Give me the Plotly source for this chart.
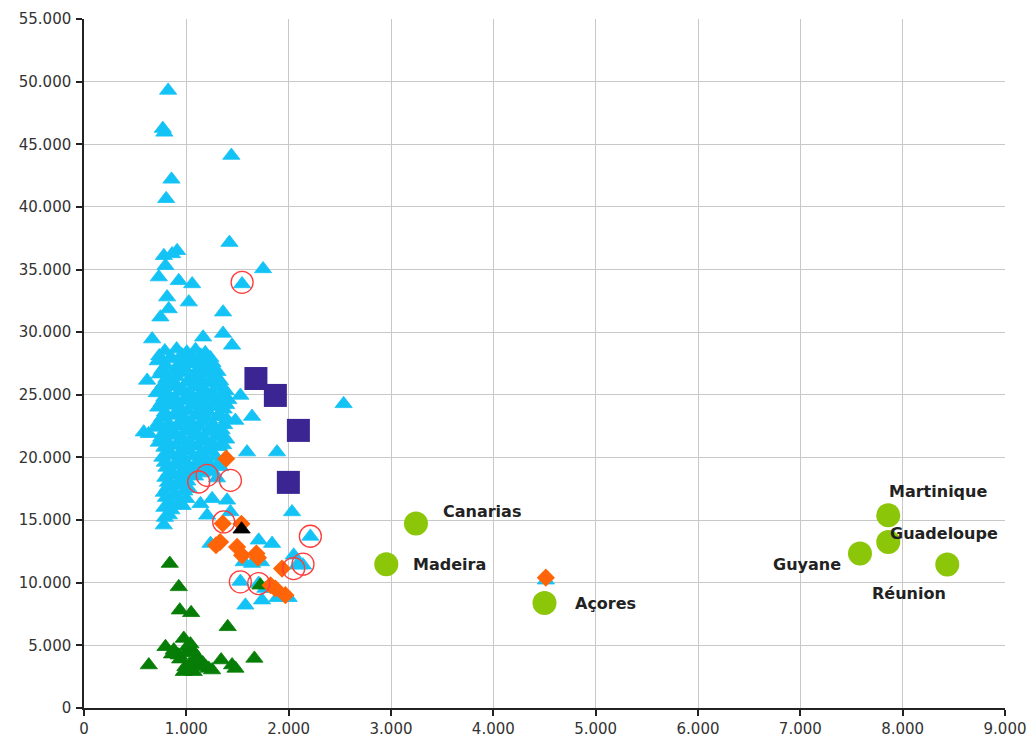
import plotly.graph_objects as go

# Light-blue regions (triangles)
blue_x = [
    822, 770, 785, 1440, 855, 803, 1421, 910, 861, 780, 1750, 1545, 796, 731,
    926, 1057, 812, 1024, 1359, 828, 747, 1164, 1359, 1447, 666,
    790, 905, 1005, 1090, 1185,
    735, 850, 955, 1045, 1140, 1235,
    720, 835, 955, 1045, 1160, 1255,
    800, 915, 1030, 1150, 1260,
    765, 875, 985, 1105, 1215, 1305,
    740, 850, 960, 1080, 1190, 1285,
    805, 905, 1025, 1135, 1245, 1330,
    780, 900, 1010, 1120, 1230, 1330,
    745, 855, 965, 1065, 1175, 1285, 1385,
    710, 820, 930, 1040, 1150, 1260, 1360,
    785, 895, 1005, 1105, 1205, 1315, 1410,
    760, 870, 980, 1080, 1180, 1290, 1390,
    725, 835, 945, 1055, 1155, 1255, 1365,
    790, 900, 1010, 1110, 1210, 1320,
    765, 875, 985, 1085, 1195, 1305, 1395,
    730, 830, 940, 1050, 1150, 1260, 1370,
    705, 805, 915, 1015, 1125, 1235, 1345,
    780, 890, 990, 1100, 1210, 1320,
    755, 855, 965, 1065, 1175, 1285, 1390,
    730, 830, 940, 1040, 1150, 1260, 1360,
    785, 895, 995, 1105, 1215, 1320,
    820, 930, 1030, 1140, 1250,
    765, 865, 965, 1065, 1175, 1285,
    790, 890, 990, 1100, 1210, 1310,
    805, 905, 1005, 1115, 1225, 1330,
    830, 940, 1040, 1150, 1260,
    795, 885, 985, 1085, 1300,
    820, 910, 1010,
    815, 925, 1025,
    780, 880, 980,
    800, 905, 1000,
    830, 930,
    785, 855, 965,
    790, 830,
    780,
    1528, 1479, 1642, 1593, 1886, 2537, 2033, 1313, 1365, 617, 584, 633,
    1138, 1252, 1398, 1203, 1431, 1707, 1838, 1236, 2049, 2090, 1642, 1730,
    1560, 1577, 1740, 1890, 2000, 1853, 1772, 2212, 2140, 2098, 1528, 1707,
    926, 4513,
]
blue_y = [
    49300, 46250, 45950, 44100, 42200, 40650, 37150, 36500, 36250, 36100, 35050, 33850, 35300, 34400,
    34100, 33850, 32800, 32400, 31600, 31850, 31200, 29600, 29900, 28950, 29450,
    28500, 28650, 28400, 28600, 28350,
    28100, 28000, 28200, 28050, 28150, 27950,
    27700, 27850, 27600, 27800, 27650, 27550,
    27350, 27250, 27450, 27300, 27200,
    27000, 26900, 27100, 26950, 27050, 26850,
    26650, 26550, 26750, 26600, 26700, 26500,
    26300, 26450, 26200, 26350, 26250, 26100,
    25900, 25800, 26000, 25850, 25950, 25750,
    25500, 25650, 25400, 25600, 25450, 25550, 25300,
    25150, 25050, 25250, 25100, 25200, 25000, 24950,
    24800, 24650, 24900, 24750, 24850, 24700, 24600,
    24400, 24300, 24500, 24350, 24450, 24250, 24200,
    24000, 24150, 23900, 24100, 23950, 24050, 23850,
    23600, 23500, 23700, 23550, 23650, 23450,
    23200, 23350, 23100, 23300, 23150, 23250, 23050,
    22800, 22700, 22900, 22750, 22850, 22650, 22600,
    22400, 22250, 22500, 22350, 22450, 22300, 22200,
    22000, 21900, 22100, 21950, 22050, 21850,
    21600, 21750, 21500, 21700, 21550, 21650, 21450,
    21200, 21100, 21300, 21150, 21250, 21050, 21000,
    20800, 20950, 20700, 20900, 20750, 20850,
    20400, 20300, 20500, 20350, 20450,
    20000, 20150, 19900, 20100, 19950, 20050,
    19600, 19500, 19700, 19550, 19650, 19450,
    19200, 19350, 19100, 19300, 19150, 19250,
    18800, 18700, 18900, 18750, 18850,
    18400, 18550, 18300, 18500, 18350,
    18000, 17900, 18100,
    17600, 17750, 17500,
    17200, 17100, 17300,
    16800, 16950, 16700,
    16400, 16500,
    16000, 15800, 16150,
    15200, 15400,
    14600,
    24950, 22950, 23270, 20430, 20430, 24280, 15650, 26150, 24400, 26150, 22020, 21890,
    16300, 16700, 16580, 15380, 15650, 13390, 13125, 13125, 12190, 11500, 11530, 11660,
    11660, 8200, 8610, 8800, 8800, 9540, 9540, 13700, 11400, 11400, 10100, 9935,
    16300, 10200,
]

# Dark-green regions (triangles)
green_x = [838, 926, 936, 1047, 1404, 633, 1665, 1340, 1447, 1480, 975, 796, 877, 926,
           1057, 1105, 991, 1138, 1219, 1252, 1072, 975, 1724, 1010, 1080, 1160, 940, 1030,
           860, 1120, 1190, 1000, 1040]
green_y = [11530, 9670, 7810, 7600, 6480, 3430, 3960, 3830, 3430, 3160, 5550, 4890, 4620, 4220,
           4620, 4090, 3290, 3430, 3160, 3030, 2900, 2900, 9800, 4900, 3800, 3600, 3900, 3500,
           4300, 3700, 3300, 4400, 5100]

# Orange regions (diamonds)
orange_x = [1389, 1356, 1538, 1290, 1330, 1496, 1545, 1685, 1700, 1935, 1870, 1968, 1823, 4513]
orange_y = [19900, 14720, 14700, 12990, 13250, 12860, 12190, 12330, 12000, 11130, 9540, 9010, 9800, 10400]

# Capital regions (squares)
capital_x = [1680, 1870, 2095, 1997]
capital_y = [26300, 24950, 22160, 18010]

# Single black triangle
black_x = [1540]
black_y = [14270]

# Highlighted regions (open red circles)
ring_x = [1545, 1121, 1203, 1431, 1365, 2212, 2049, 2140, 1528, 1707]
ring_y = [33980, 18040, 18570, 18170, 14850, 13710, 11130, 11480, 10070, 9935]

# Outermost regions (labelled circles)
outer_names = ["Canarias", "Madeira", "Açores", "Martinique", "Guadeloupe", "Guyane", "Réunion"]
outer_x = [3244, 2954, 4500, 7859, 7859, 7583, 8436]
outer_y = [14720, 11480, 8390, 15380, 13260, 12330, 11450]
label_dx = [66, 63, 61, 50, 56, -53, -38]
label_dy = [12, 0, -1, 24, 8, -11, -29]

fig = go.Figure()

def add_markers(x, y, symbol, size, color, line=None):
    fig.add_trace(go.Scatter(
        x=x, y=y, mode="markers", hoverinfo="skip",
        marker=dict(symbol=symbol, size=size, color=color,
                    line=line or dict(width=0)),
    ))

add_markers(blue_x, blue_y, "triangle-up", 15, "#14C3F5", dict(width=0.8, color="#14C3F5"))
add_markers(green_x, green_y, "triangle-up", 15, "#067D06", dict(width=0.8, color="#067D06"))
add_markers(orange_x, orange_y, "diamond", 14, "#FF6408")
add_markers(black_x, black_y, "triangle-up", 15, "#000000", dict(width=0.8, color="#000000"))
add_markers(capital_x, capital_y, "square", 23, "#3A2592")
add_markers(ring_x, ring_y, "circle-open", 22, "#FF3B3B", dict(width=1.3, color="#FF3B3B"))
add_markers(outer_x, outer_y, "circle", 24, "#8CC608")

for name, x, y, dx, dy in zip(outer_names, outer_x, outer_y, label_dx, label_dy):
    fig.add_annotation(
        x=x, y=y, text="<b>" + name + "</b>", showarrow=False,
        xshift=dx, yshift=dy, xanchor="center", yanchor="middle",
        font=dict(family="DejaVu Sans, Verdana, sans-serif", size=16, color="#222222"),
    )

axis_common = dict(
    showgrid=True, gridcolor="#C8C8C8", gridwidth=1,
    showline=True, linecolor="#222222", linewidth=1.5,
    ticks="outside", ticklen=6, tickcolor="#222222", tickwidth=1.5,
    zeroline=False, tickformat=",.0f", automargin=False,
    tickfont=dict(family="DejaVu Sans, Verdana, sans-serif", size=15, color="#333333"),
)

fig.update_layout(
    width=1031, height=745,
    margin=dict(l=84, r=26, t=19, b=37),
    paper_bgcolor="white", plot_bgcolor="white",
    showlegend=False,
    separators=",.",
    xaxis=dict(range=[0, 9000], dtick=1000, **axis_common),
    yaxis=dict(range=[0, 55000], dtick=5000, ticklabelstandoff=2, **axis_common),
)

fig.write_html("out.html")
